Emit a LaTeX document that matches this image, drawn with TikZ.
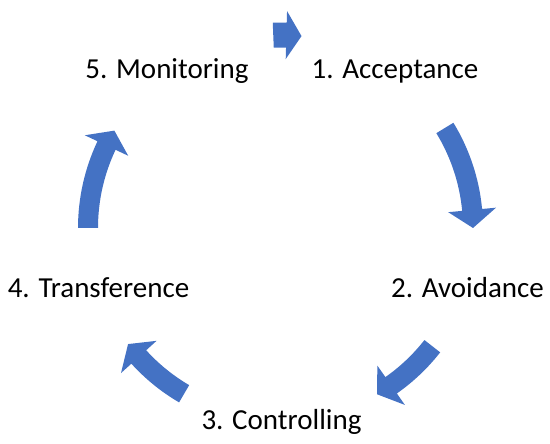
\documentclass[tikz,border=0pt]{standalone}
\usepackage{fontspec}
\setmainfont{Carlito}
\definecolor{arrowblue}{HTML}{4472C4}
\tikzset{
  lbl/.style={anchor=base, inner sep=0pt, font=\fontsize{29}{35}\selectfont, text=black},
  arrowfill/.style={fill=arrowblue}
}
% tail angle, tip angle, head angular length, radius, shaft half width, head half width
\newcommand\CycArrow[6]{%
  \fill[arrowfill] (#1:{#4+#5}) arc[start angle=#1, end angle={#2+#3}, radius={#4+#5}]
    -- ({#2+#3}:{#4+#6}) -- (#2:#4) -- ({#2+#3}:{#4-#6}) -- ({#2+#3}:{#4-#5})
    arc[start angle={#2+#3}, end angle=#1, radius={#4-#5}] -- cycle;}
\begin{document}
\begin{tikzpicture}[x=1pt,y=1pt]
\useasboundingbox (0,0) rectangle (550,444);
\begin{scope}[shift={(281,216)}]
  \CycArrow{92.3}{83.9}{4.5}{193}{12.5}{24}
  \CycArrow{31.4}{0}{5.4}{192}{10}{24}
  \CycArrow{-38}{-60}{5}{192}{10}{24}
  \CycArrow{-120.3}{-142.8}{5}{192}{10}{24}
  \CycArrow{180}{149.7}{5}{193}{10}{24}
\end{scope}
\node[lbl] (n1) at (395,365.7) {1. Acceptance};
\node[lbl] (n2) at (467.5,146) {2. Avoidance};
\node[lbl] (n3) at (281.5,14) {3. Controlling};
\node[lbl] (n4) at (98.5,146) {4. Transference};
\node[lbl] (n5) at (167,365.7) {5. Monitoring};
\end{tikzpicture}
\end{document}
